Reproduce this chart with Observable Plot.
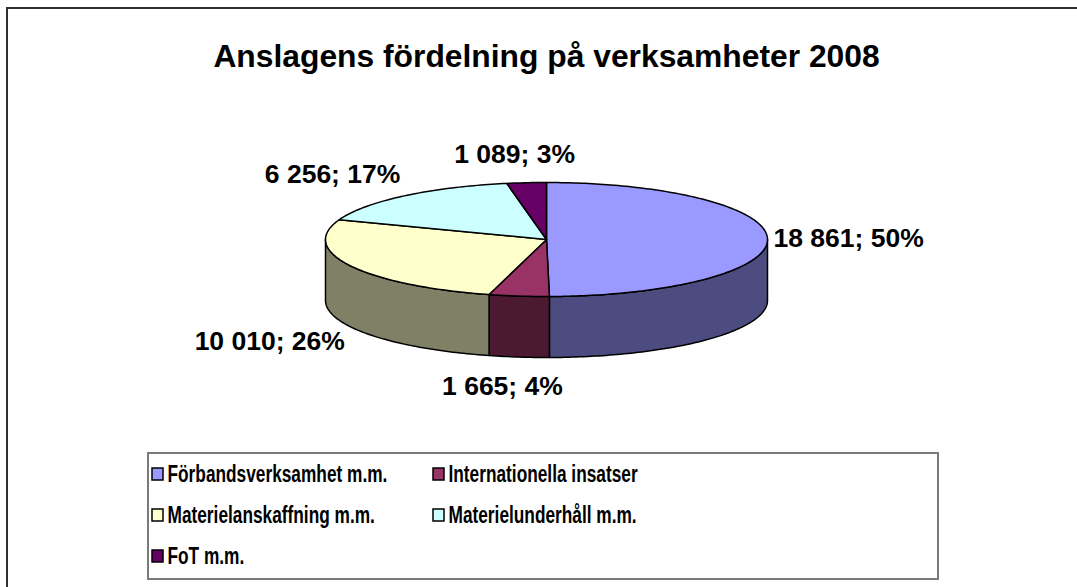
<!DOCTYPE html>
<html><head><meta charset="utf-8">
<script src="https://cdn.jsdelivr.net/npm/d3@7"></script>
<script src="https://cdn.jsdelivr.net/npm/@observablehq/plot@0.6"></script>
<style>
html,body{margin:0;padding:0;background:#fff;overflow:hidden}
svg{display:block;font-family:"Liberation Sans",Arial,sans-serif}
</style>
</head><body><div id="chart"></div>
<script>
const title = "Anslagens fördelning på verksamheter 2008";
const categories = ["Förbandsverksamhet m.m.", "Internationella insatser", "Materielanskaffning m.m.", "Materielunderhåll m.m.", "FoT m.m."];
const values = [18861, 1665, 10010, 6256, 1089];
const topColors = ["#9999FF", "#993366", "#FFFFCC", "#CCFFFF", "#660066"];
const sideColors = ["#4C4C80", "#4C1933", "#808066", "#668080", "#330033"];

const W = 1077, H = 587;
const cx = 546, cy = 239, rx = 221, ry = 57, depth = 61;
const total = d3.sum(values);
const fmt = d3.formatLocale({decimal: ",", thousands: " ", grouping: [3], currency: ["", ""]}).format(",d");

const pt = (a, dy = 0) => ({x: cx + rx * Math.sin(a), y: cy - ry * Math.cos(a) + dy});
function arc(a0, a1, dy) {
  const n = Math.max(2, Math.ceil((a1 - a0) / (Math.PI / 180)));
  return d3.range(n + 1).map(k => pt(a0 + (a1 - a0) * k / n, dy));
}
let acc = 0;
const slices = values.map((v, i) => {
  const a0 = acc / total * 2 * Math.PI; acc += v;
  const a1 = acc / total * 2 * Math.PI;
  return {i, v, a0, a1, mid: (a0 + a1) / 2};
});

const sideMarks = slices.flatMap(s => {
  const a = Math.max(s.a0, Math.PI / 2), b = Math.min(s.a1, 3 * Math.PI / 2);
  if (b <= a) return [];
  const poly = [...arc(a, b, 0), ...arc(a, b, depth).reverse()];
  return [Plot.line(poly, {x: "x", y: "y", curve: "linear-closed", fill: sideColors[s.i], stroke: "#000", strokeWidth: 1.5, strokeLinejoin: "round"})];
});
const topMarks = slices.map(s => {
  const poly = [{x: cx, y: cy}, ...arc(s.a0, s.a1, 0)];
  return Plot.line(poly, {x: "x", y: "y", curve: "linear-closed", fill: topColors[s.i], stroke: "#000", strokeWidth: 1.5, strokeLinejoin: "round"});
});

const labels = slices.map(s => {
  const sn = Math.sin(s.mid), cs = Math.cos(s.mid);
  const side = Math.abs(sn) > 0.5;
  return {
    x: side ? cx + (rx + 6) * Math.sign(sn) * Math.abs(sn) : cx + 1.6 * rx * sn,
    y: cy - 85 * cs + (cs < 0 ? depth + 2 : 0),
    anchor: side ? (sn > 0 ? "start" : "end") : "middle",
    text: `${fmt(s.v)}; ${Math.round(s.v / total * 100)}%`
  };
});

const legend = categories.map((c, i) => {
  const col = i % 2, row = Math.floor(i / 2);
  const sx = 152 + col * 281, sy = 474 + row * 41;
  return {c, i, sx, sy};
});

const chart = Plot.plot({
  width: W, height: H, margin: 0,
  style: {overflow: "hidden"},
  x: {domain: [0, W], range: [0, W], axis: null},
  y: {domain: [0, H], range: [0, H], axis: null},
  marks: [
    Plot.rect([0], {x1: 7, x2: W + 40, y1: 8, y2: H + 40, fill: "none", stroke: "#303030", strokeWidth: 2}),
    Plot.text([title], {x: cx, y: 56, text: d => d, fontSize: 31.8, fontWeight: "bold", fill: "#000"}),
    ...sideMarks,
    ...topMarks,
    ...["start", "end", "middle"].map(an => Plot.text(labels.filter(d => d.anchor === an), {x: "x", y: "y", text: "text", fontSize: 26.5, fontWeight: "bold", fill: "#000", textAnchor: an})),
    Plot.rect([0], {x1: 148, x2: 938, y1: 453, y2: 579, fill: "none", stroke: "#7a7a7a", strokeWidth: 2}),
    Plot.rect(legend, {x1: d => d.sx, x2: d => d.sx + 11, y1: d => d.sy - 6, y2: d => d.sy + 6, fill: d => topColors[d.i], stroke: "#000", strokeWidth: 1.5}),
    Plot.text(legend, {x: d => d.sx + 15, y: "sy", text: "c", fontSize: 24, fontWeight: "bold", fill: "#000", textAnchor: "start"})
  ]
});
document.getElementById("chart").append(chart);
chart.querySelectorAll("text").forEach(el => {
  if (!categories.includes(el.textContent)) return;
  const x = +el.getAttribute("x") || 0, y = +el.getAttribute("y") || 0;
  const t = el.getAttribute("transform") || "";
  if (/translate\(/.test(t)) {
    el.setAttribute("transform", `${t} scale(0.72,1)`);
  } else {
    el.setAttribute("transform", `translate(${x},${y}) scale(0.72,1) translate(${-x},${-y})`);
  }
});
</script>
</body></html>
